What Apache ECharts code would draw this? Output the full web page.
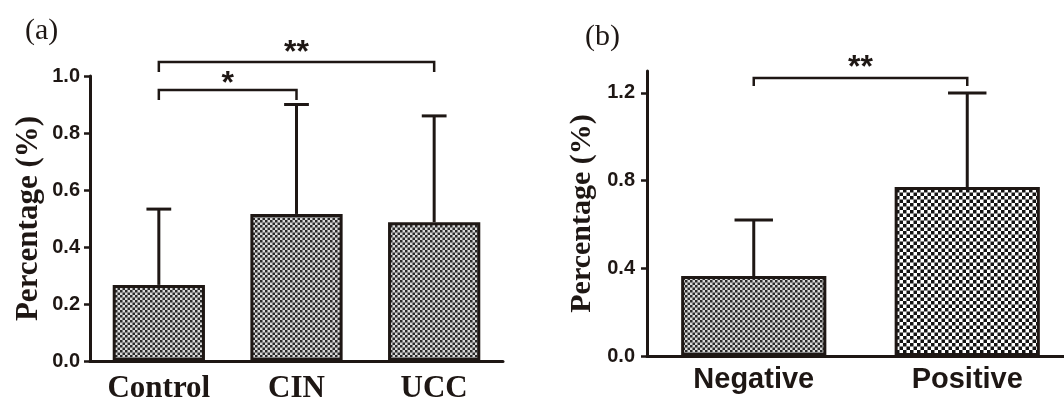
<!DOCTYPE html>
<html>
<head>
<meta charset="utf-8">
<script src="https://cdn.jsdelivr.net/npm/echarts@6/dist/echarts.min.js"></script>
<style>
html,body{margin:0;padding:0;background:#fff;}
#chart{width:1064px;height:400px;}
</style>
</head>
<body>
<div id="chart"></div>
<script>
// ---- Data ----
const categoriesA = ['Control', 'CIN', 'UCC'];
const meanA = [0.267, 0.516, 0.487];
const sdA = [0.266, 0.384, 0.373];
const yTicksA = [0, 0.2, 0.4, 0.6, 0.8, 1.0];

const categoriesB = ['Negative', 'Positive'];
const meanB = [0.365, 0.771];
const sdB = [0.255, 0.429];
const yTicksB = [0, 0.4, 0.8, 1.2];

// significance comparisons: [fromIndex, toIndex, label]
const sigA = [[0, 1, '*'], [0, 2, '**']];
const sigB = [[0, 1, '**']];

// ---- Styling helpers ----
const INK = '#1e1714';
function makePattern(N, s, dark, light) {
  const c = document.createElement('canvas');
  c.width = c.height = N;
  const g = c.getContext('2d');
  g.fillStyle = light; g.fillRect(0, 0, N, N);
  g.fillStyle = dark;
  const n = Math.round(N / s);
  for (let i = 0; i < n; i++) for (let j = 0; j < n; j++) {
    if ((i + j) % 2 === 0) g.fillRect(i * s, j * s, s, s);
  }
  return c;
}
const fine = { image: makePattern(10, 2.5, '#2a2a2a', '#d9d9d9'), repeat: 'repeat' };
const coarse = { image: makePattern(14, 3.5, '#141414', '#ffffff'), repeat: 'repeat' };

function errorSeries(xi, yi, means, sds) {
  return {
    type: 'custom', xAxisIndex: xi, yAxisIndex: yi, z: 5,
    data: means.map((m, i) => [i, m, sds[i]]),
    renderItem(params, api) {
      const x = api.value(0), m = api.value(1), sd = api.value(2);
      const b = api.coord([x, m]);
      const t = api.coord([x, m + sd]);
      const hw = api.size([1, 0])[0] * 0.09;
      const st = { stroke: INK, lineWidth: 3 };
      return { type: 'group', children: [
        { type: 'line', shape: { x1: b[0], y1: b[1], x2: t[0], y2: t[1] }, style: st },
        { type: 'line', shape: { x1: t[0] - hw, y1: t[1], x2: t[0] + hw, y2: t[1] }, style: st }
      ]};
    }
  };
}

function bracketSeries(xi, yi, sig, heights, leg, textGap) {
  return {
    type: 'custom', xAxisIndex: xi, yAxisIndex: yi, z: 6, clip: false,
    data: sig.map((s, i) => [s[0], s[1], heights[i]]),
    encode: { x: 0, y: 2 },
    renderItem(params, api) {
      const f = api.value(0), t = api.value(1), h = api.value(2);
      const p1 = api.coord([f, h]);
      const p2 = api.coord([t, h]);
      const st = { stroke: INK, lineWidth: 2.5, fill: null };
      return { type: 'group', children: [
        { type: 'polyline', shape: { points: [[p1[0], p1[1] + leg], p1, p2, [p2[0], p2[1] + leg]] }, style: st },
        { type: 'text', style: { x: (p1[0] + p2[0]) / 2, y: p1[1] - textGap[params.dataIndex],
          text: sig[params.dataIndex][2], fill: INK, font: 'bold 32px "Liberation Sans", Arial',
          align: 'center', verticalAlign: 'middle' } }
      ]};
    }
  };
}

const yLabelStyle = { color: INK, fontFamily: '"Liberation Sans", Arial', fontWeight: 'bold', fontSize: 20 };
const nameStyle = { color: INK, fontFamily: '"Liberation Serif", "Times New Roman", serif', fontWeight: 'bold' };

const chart = echarts.init(document.getElementById('chart'), null, { renderer: 'canvas' });
chart.setOption({
  animation: false,
  backgroundColor: '#fff',
  graphic: [
    { type: 'text', left: 25, top: 16, style: { text: '(a)', fill: INK, font: '30px "Liberation Serif", serif' } },
    { type: 'text', left: 585, top: 22, style: { text: '(b)', fill: INK, font: '30px "Liberation Serif", serif' } }
  ],
  grid: [
    { left: 90, top: 76, width: 413, bottom: 39, containLabel: false, outerBoundsMode: 'none' },
    { left: 647, top: 71, width: 427, bottom: 44, containLabel: false, outerBoundsMode: 'none' }
  ],
  xAxis: [
    { type: 'category', gridIndex: 0, data: categoriesA,
      axisLine: { lineStyle: { color: INK, width: 3 } },
      axisTick: { alignWithLabel: true, length: 8, lineStyle: { color: INK, width: 2.5 } },
      axisLabel: { margin: 12, color: INK, fontFamily: '"Liberation Serif", "Times New Roman", serif', fontWeight: 'bold', fontSize: 31 } },
    { type: 'category', gridIndex: 1, data: categoriesB,
      axisLine: { lineStyle: { color: INK, width: 3 } },
      axisTick: { show: false },
      axisLabel: { margin: 9, color: INK, fontFamily: '"Liberation Sans", Arial', fontWeight: 'bold', fontSize: 29 } }
  ],
  yAxis: [
    { type: 'value', gridIndex: 0, min: 0, max: 1.0, interval: 0.2,
      name: 'Percentage (%)', nameLocation: 'middle', nameGap: 46,
      nameTextStyle: Object.assign({ fontSize: 31 }, nameStyle),
      splitLine: { show: false },
      axisLine: { show: true, lineStyle: { color: INK, width: 3 } },
      axisTick: { show: true, length: 6, customValues: yTicksA, lineStyle: { color: INK, width: 2.5 } },
      axisLabel: Object.assign({ margin: 10, customValues: yTicksA, formatter: v => v.toFixed(1) }, yLabelStyle) },
    { type: 'value', gridIndex: 1, min: 0, max: 1.3,
      name: 'Percentage (%)', nameLocation: 'middle', nameGap: 50,
      nameTextStyle: Object.assign({ fontSize: 30 }, nameStyle),
      splitLine: { show: false },
      axisLine: { show: true, lineStyle: { color: INK, width: 3 } },
      axisTick: { show: true, length: 6, customValues: yTicksB, lineStyle: { color: INK, width: 2.5 } },
      axisLabel: Object.assign({ margin: 12, customValues: yTicksB, formatter: v => v.toFixed(1) }, yLabelStyle) }
  ],
  series: [
    { type: 'bar', xAxisIndex: 0, yAxisIndex: 0, data: meanA, barWidth: '67%',
      itemStyle: { color: fine, borderColor: INK, borderWidth: 3 } },
    errorSeries(0, 0, meanA, sdA),
    bracketSeries(0, 0, sigA, [0.951, 1.049], 10, [6, 9]),
    { type: 'bar', xAxisIndex: 1, yAxisIndex: 1,
      data: [
        { value: meanB[0], itemStyle: { color: fine } },
        { value: meanB[1], itemStyle: { color: coarse } }
      ],
      barWidth: '68%',
      itemStyle: { borderColor: INK, borderWidth: 3 } },
    errorSeries(1, 1, meanB, sdB),
    bracketSeries(1, 1, sigB, [1.268], 8, [10])
  ]
});
</script>
</body>
</html>
